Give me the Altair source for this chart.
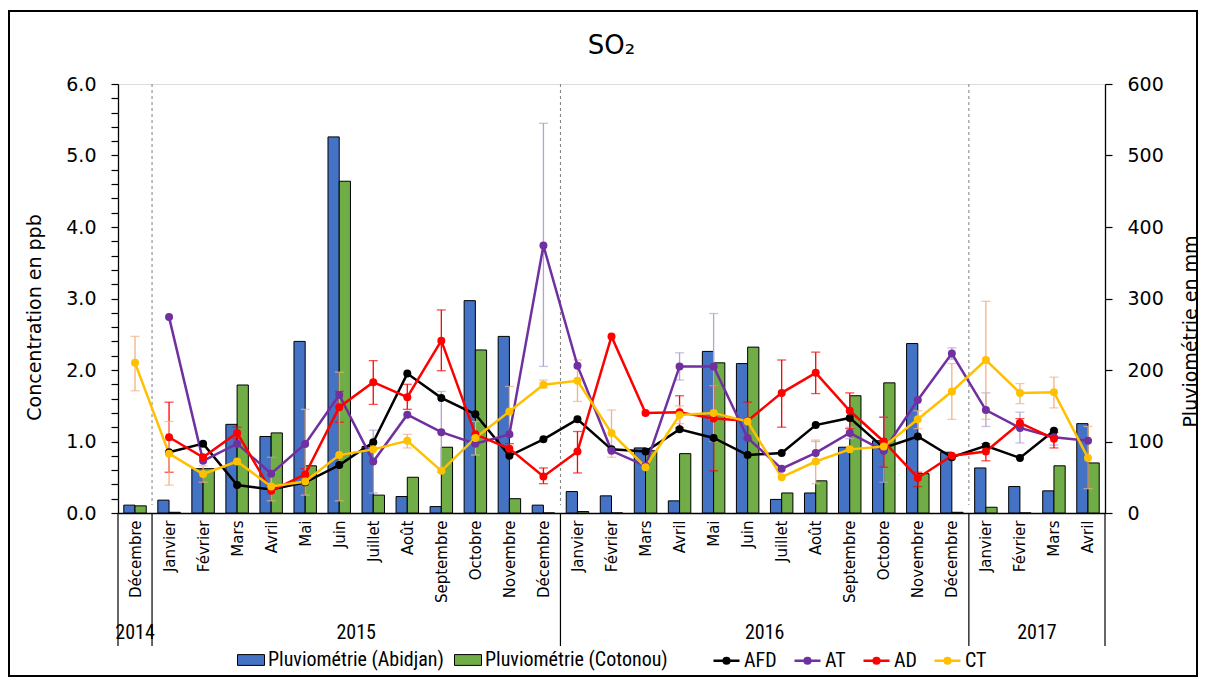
import json
import pandas as pd
import altair as alt

N_ = None
months = ["Décembre", "Janvier", "Février", "Mars", "Avril", "Mai", "Juin", "Juillet", "Août",
          "Septembre", "Octobre", "Novembre", "Décembre",
          "Janvier", "Février", "Mars", "Avril", "Mai", "Juin", "Juillet", "Août",
          "Septembre", "Octobre", "Novembre", "Décembre",
          "Janvier", "Février", "Mars", "Avril"]
years = ["2014"] + ["2015"] * 12 + ["2016"] * 12 + ["2017"] * 4

rain_abidjan = [11, 18, 62, 124, 107, 240, 526, 93, 23, 9, 297, 247, 11,
                30, 24, 91, 17, 226, 209, 19, 28, 92, 101, 237, 85,
                63, 37, 31, 125]
rain_cotonou = [10, 1, 62, 179, 112, 66, 464, 25, 50, 92, 228, 20, 0,
                2, 0, 87, 83, 210, 232, 28, 45, 164, 182, 55, 1,
                8, 0, 66, 70]

afd = [N_, 0.85, 0.97, 0.39, 0.33, 0.43, 0.67, 0.99, 1.95, 1.61, 1.38, 0.80, 1.03,
       1.31, 0.89, 0.86, 1.17, 1.05, 0.81, 0.84, 1.23, 1.33, 0.91, 1.07, 0.78,
       0.94, 0.77, 1.15, N_]
at = [N_, 2.74, 0.73, 0.97, 0.55, 0.965, 1.65, 0.72, 1.375, 1.13, 0.97, 1.10, 3.74,
      2.06, 0.87, 0.66, 2.05, 2.05, 1.05, 0.62, 0.84, 1.12, 0.87, 1.58, 2.23,
      1.44, 1.19, 1.06, 1.01]
ad = [N_, 1.06, 0.78, 1.12, 0.31, 0.54, 1.48, 1.83, 1.62, 2.41, 1.10, 0.90, 0.51,
      0.86, 2.47, 1.40, 1.41, 1.32, 1.29, 1.68, 1.96, 1.43, 1.00, 0.49, 0.80,
      0.86, 1.26, 1.04, N_]
ct = [2.10, 0.83, 0.545, 0.72, 0.37, 0.44, 0.81, 0.89, 1.01, 0.59, 1.05, 1.42, 1.795,
      1.85, 1.12, 0.64, 1.37, 1.40, 1.28, 0.50, 0.72, 0.89, 0.93, 1.31, 1.70,
      2.14, 1.68, 1.69, 0.77]

at_lo = [N_, N_, N_, N_, 0.32, N_, N_, 0.28, N_, 0.57, N_, N_, 2.05,
         N_, N_, N_, 1.86, 1.31, N_, N_, 0.70, 1.04, 0.43, N_, 2.15,
         1.21, 0.98, 0.95, N_]
at_hi = [N_, N_, N_, N_, 0.78, N_, N_, 1.16, N_, 1.70, N_, N_, 5.45,
         N_, N_, N_, 2.24, 2.79, N_, N_, 1.00, 1.20, 1.34, N_, 2.31,
         1.68, 1.41, 1.17, N_]
ad_lo = [N_, 0.57, N_, 1.04, N_, 0.46, 1.27, 1.52, 1.45, 1.99, N_, 0.83, 0.41,
         0.56, N_, N_, 1.19, 0.59, 1.04, 1.20, 1.67, 1.18, 0.64, 0.37, N_,
         0.73, 1.20, 0.91, N_]
ad_hi = [N_, 1.55, N_, 1.20, N_, 0.62, 1.70, 2.13, 1.80, 2.84, N_, 0.97, 0.63,
         1.14, N_, N_, 1.64, 1.78, 1.55, 2.14, 2.25, 1.68, 1.34, 0.57, N_,
         0.97, 1.32, 1.13, N_]
ct_lo = [1.71, 0.39, 0.43, N_, 0.17, 0.25, 0.17, N_, 0.91, N_, 0.81, 1.07, 1.75,
         1.56, 0.78, N_, 1.25, 1.00, N_, N_, 0.41, N_, N_, 1.18, 1.31,
         1.31, 1.53, 1.47, 0.34]
ct_hi = [2.47, 1.28, 0.66, N_, 0.57, 1.45, 1.97, N_, 1.10, N_, 1.28, 1.77, 1.86,
         2.14, 1.44, N_, 1.50, 1.78, N_, N_, 1.02, N_, N_, 1.43, 2.09,
         2.96, 1.81, 1.90, 1.21]

title_text = "SO₂"
bar_names = ["Pluviométrie (Abidjan)", "Pluviométrie (Cotonou)"]
bar_colors = ["#4472C4", "#70AD47"]
line_names = ["AFD", "AT", "AD", "CT"]
line_colors = ["#000000", "#7030A0", "#FF0000", "#FFC000"]
err_colors = {"AT": "#B3A2D4", "AD": "#FF0000", "CT": "#F4B183"}

BAR_PATH = "M-1,-0.4H1V0.4H-1Z"
LINE_PATH = "M-1,0H1M0.22,0A0.22,0.22,0,1,1,-0.22,0A0.22,0.22,0,1,1,0.22,0Z"

NARROW = "Liberation Sans Narrow, Arial Narrow, Roboto Condensed, DejaVu Sans Condensed, sans-serif"
MAIN = "DejaVu Sans"

W, H = 987, 429
n = len(months)
idx = list(range(n))

# ---------------- data frames ----------------
bars_df = pd.DataFrame({
    "idx": idx * 2,
    "serie": [bar_names[0]] * n + [bar_names[1]] * n,
    "value": rain_abidjan + rain_cotonou,
    "side": [-1] * n + [1] * n,
})

lines_df = pd.concat([
    pd.DataFrame({"idx": idx, "serie": name, "value": vals})
    for name, vals in zip(line_names, [afd, at, ad, ct])
]).dropna()

err_frames = {
    "AT": pd.DataFrame({"idx": idx, "lo": at_lo, "hi": at_hi}).dropna(),
    "AD": pd.DataFrame({"idx": idx, "lo": ad_lo, "hi": ad_hi}).dropna(),
    "CT": pd.DataFrame({"idx": idx, "lo": ct_lo, "hi": ct_hi}).dropna(),
}

bounds = [-0.5] + [i - 0.5 for i in range(1, n) if years[i] != years[i - 1]] + [n - 0.5]
inner_df = pd.DataFrame({"b": bounds[1:-1]})
sep_df = pd.DataFrame({"b": bounds})
year_df = (pd.DataFrame({"idx": idx, "year": years})
           .groupby("year", as_index=False)["idx"].mean()
           .rename(columns={"idx": "c"}))

# ---------------- scales & axes ----------------
x_scale = alt.Scale(domain=[-0.5, n - 0.5], nice=False, zero=False)
y_left = alt.Scale(domain=[0, 6], nice=False)
y_right = alt.Scale(domain=[0, 600], nice=False)
bar_scale = alt.Scale(domain=bar_names, range=bar_colors)
line_scale = alt.Scale(domain=line_names, range=line_colors)

is_major = "abs(datum.value - round(datum.value)) < 0.001"

x_axis = alt.Axis(
    values=idx,
    labelExpr=json.dumps(months, ensure_ascii=False) + "[datum.value]",
    labelAngle=270, ticks=False, grid=False, domainColor="black", domainWidth=1.3,
    labelFont=MAIN, labelFontSize=15, labelColor="black", labelPadding=7,
    labelOverlap=False, labelBound=False, title=None,
)
left_axis = alt.Axis(
    orient="left",
    values=[round(0.2 * i, 1) for i in range(31)],
    labelExpr=f"{is_major} ? format(datum.value, '.1f') : ''",
    gridOpacity={"condition": {"test": is_major, "value": 1}, "value": 0},
    gridColor="#D9D9D9", gridWidth=1.5,
    tickSize=7, tickColor="black", tickWidth=1.2,
    domainColor="black", domainWidth=1.3,
    labelFont=MAIN, labelFontSize=19, labelColor="black", labelPadding=15, labelOverlap=False,
    title="Concentration en ppb", titleFont=MAIN, titleFontSize=19, titleFontWeight="normal",
    titleColor="black", titleAngle=270, titleAlign="center", titleBaseline="middle",
    titleX=-84, titleY=233,
)
right_axis = alt.Axis(
    orient="right",
    values=[0, 100, 200, 300, 400, 500, 600],
    grid=False, tickSize=7, tickColor="black", tickWidth=1.2,
    domainColor="black", domainWidth=1.3,
    labelFont=MAIN, labelFontSize=19, labelColor="black", labelPadding=15,
    title="Pluviométrie en mm", titleFont=MAIN, titleFontSize=19, titleFontWeight="normal",
    titleColor="black", titleAngle=270, titleAlign="center", titleBaseline="middle",
    titleX=85, titleY=247,
)

LEG_Y = 562
bar_legend = alt.Legend(
    orient="none", legendX=119, legendY=LEG_Y, direction="horizontal",
    title=None, labelFont=NARROW, labelFontSize=20, labelColor="black", labelLimit=400,
    symbolType=BAR_PATH, symbolSize=729, symbolStrokeColor="black", symbolStrokeWidth=1,
    symbolOpacity=1, labelOffset=3, columnPadding=8,
)
line_legend = alt.Legend(
    orient="none", legendX=594, legendY=LEG_Y, direction="horizontal",
    title=None, labelFont=NARROW, labelFontSize=20, labelColor="black", labelLimit=400,
    symbolType=LINE_PATH, symbolSize=676, symbolStrokeWidth=2.5, symbolOpacity=1,
    labelOffset=3, columnPadding=12,
)

X = lambda f: alt.X(f, scale=x_scale, axis=x_axis)

# ---------------- bars (right axis) ----------------
bars = alt.Chart(bars_df).transform_calculate(
    x0="datum.side < 0 ? datum.idx - 0.33 : datum.idx",
    x1="datum.side < 0 ? datum.idx : datum.idx + 0.33",
).mark_bar(stroke="black", strokeWidth=1, opacity=1).encode(
    x=X("x0:Q"),
    x2="x1:Q",
    y=alt.Y("value:Q", scale=y_right, axis=right_axis),
    y2=alt.datum(0),
    fill=alt.Fill("serie:N", scale=bar_scale, legend=bar_legend),
)
bars_group = alt.layer(bars)

# ---------------- lines (left axis) ----------------
YL = lambda f: alt.Y(f, scale=y_left, axis=left_axis)

err_layers = []
for name in ["AT", "AD", "CT"]:
    err_layers.append(
        alt.Chart(err_frames[name]).mark_errorbar(
            ticks={"size": 9}, color=err_colors[name], thickness=1.3
        ).encode(
            x=X("idx:Q"),
            y=YL("lo:Q"),
            y2="hi:Q",
        )
    )

lines = alt.Chart(lines_df).mark_line(strokeWidth=2.5).encode(
    x=X("idx:Q"),
    y=YL("value:Q"),
    stroke=alt.Stroke("serie:N", scale=line_scale, legend=line_legend),
)
points = alt.Chart(lines_df).mark_point(filled=True, size=64, opacity=1).encode(
    x=X("idx:Q"),
    y=YL("value:Q"),
    color=alt.Color("serie:N", scale=line_scale, legend=None),
)
lines_group = alt.layer(*err_layers, lines, points)

# ---------------- decorations ----------------
dashed = alt.Chart(inner_df).mark_rule(color="#7F7F7F", strokeWidth=1, strokeDash=[3, 3]).encode(
    x=X("b:Q"),
    y=alt.value(0), y2=alt.value(H - 8),
)
seps = alt.Chart(sep_df).mark_rule(color="black", strokeWidth=1.2).encode(
    x=X("b:Q"),
    y=alt.value(H), y2=alt.value(H + 133),
)
year_text = alt.Chart(year_df).mark_text(
    font=NARROW, fontSize=20, color="black", baseline="middle", align="center"
).encode(
    x=X("c:Q"),
    y=alt.value(H + 120),
    text="year:N",
)
title = alt.Chart(pd.DataFrame({"t": [title_text]})).mark_text(
    font=MAIN, fontSize=26, color="black", baseline="alphabetic", align="center"
).encode(
    x=alt.value(W / 2), y=alt.value(-30), text="t:N",
)
frame = alt.Chart(pd.DataFrame({"k": [0]})).mark_rect(
    fillOpacity=0, stroke="black", strokeWidth=2
).encode(
    x=alt.value(-109), x2=alt.value(W + 92),
    y=alt.value(-73), y2=alt.value(H + 163),
)

chart = alt.layer(
    bars_group, dashed, lines_group, seps, year_text, title, frame
).resolve_scale(y="independent").properties(
    width=W, height=H,
    autosize=alt.AutoSizeParams(type="none"),
    padding={"left": 110, "top": 76, "right": 95, "bottom": 165},
).configure_view(stroke=None).configure(font=MAIN)

chart.save("out.html", embed_options={"renderer": "svg", "actions": False})
